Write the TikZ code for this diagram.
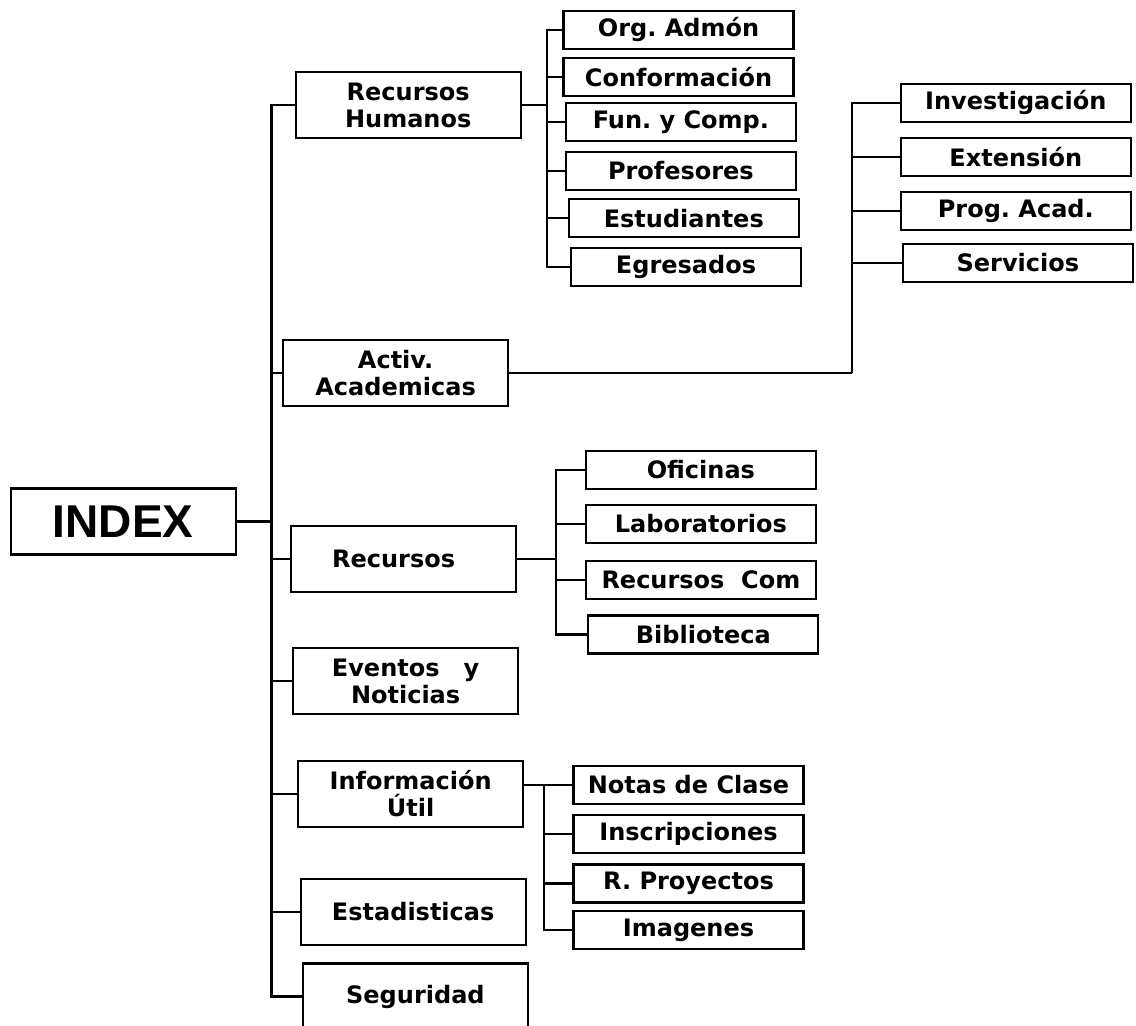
\documentclass[tikz,border=0pt]{standalone}
\usepackage{fontspec}
\setmainfont{DejaVu Sans}
\newfontfamily\idxfont{Liberation Sans}
\frenchspacing
\begin{document}
\begin{tikzpicture}[x=1pt,y=-1pt,line width=2.2pt,
  box/.style={draw, rectangle, inner sep=0pt, align=center, line width=2.2pt,
    font=\fontsize{24}{27}\selectfont\bfseries},
  main/.style={box, minimum width=225pt, minimum height=66pt},
  sub/.style={box, minimum width=230pt, minimum height=38pt},
  conn/.style={draw, line width=2.2pt}]
\useasboundingbox (0,0) rectangle (1136,1026);
\clip (0,0) rectangle (1136,1026);

% root
\node[main, font=\fontsize{46}{50}\selectfont\idxfont\bfseries] (index) at (123.2,521.5) {INDEX};

% main level
\node[main] (rh)    at (408.2,105)   {Recursos\\Humanos};
\node[main] (activ) at (395.6,373.3) {Activ.\\Academicas};
\node[main] (rec)   at (403.6,558.6) {\hspace*{-20pt}Recursos};
\node[main] (ev)    at (405.6,681.3) {Eventos\quad y\\Noticias};
\node[main] (info)  at (410.6,794)   {Información\\Útil};
\node[main] (est)   at (413.2,911.7) {Estadisticas};
\node[main] (seg)   at (415.4,996.5) {Seguridad};

% Recursos Humanos children
\node[sub] (org)  at (678.5,29.9)  {Org. Admón};
\node[sub] (conf) at (678.5,77.3)  {Conformación};
\node[sub] (fun)  at (680.9,121.7) {Fun. y Comp.};
\node[sub] (prof) at (680.9,171)   {Profesores};
\node[sub] (estu) at (683.8,218.3) {Estudiantes};
\node[sub] (egr)  at (686,267.2)   {Egresados};

% Activ. Academicas children
\node[sub] (inv)  at (1015.8,102.9) {Investigación};
\node[sub] (ext)  at (1015.8,157)   {Extensión};
\node[sub] (prog) at (1015.8,211)   {Prog. Acad.};
\node[sub] (serv) at (1017.9,262.7) {Servicios};

% Recursos children
\node[sub] (ofi)  at (700.9,469.9) {Oficinas};
\node[sub] (lab)  at (700.9,524)   {Laboratorios};
\node[sub] (rcom) at (700.9,580)   {Recursos\ \ Com};
\node[sub] (bib)  at (703.3,634.4) {Biblioteca};

% Informacion Util children
\node[sub] (notas) at (688.5,784.8) {Notas de Clase};
\node[sub] (insc)  at (688.5,834)   {Inscripciones};
\node[sub] (rpro)  at (688.5,883.5) {R. Proyectos};
\node[sub] (img)   at (688.5,930.3) {Imagenes};

% junction coordinates
\coordinate (sj)   at (271.4,519);
\coordinate (rhj)  at (546.7,105);
\coordinate (acj)  at (852.1,373.3);
\coordinate (recj) at (556,558.6);
\coordinate (infj) at (544.3,784.8);

% connectors
\draw[conn] (index.east) -- (index.east -| sj);
\foreach \n in {rh,activ,rec,ev,info,est,seg} \draw[conn] (\n.west) -| (sj);

\draw[conn] (rh.east) -- (rhj);
\foreach \n in {org,conf,fun,prof,estu,egr} \draw[conn] (\n.west) -| (rhj);

\draw[conn] (activ.east) -- (acj);
\foreach \n in {inv,ext,prog,serv} \draw[conn] (\n.west) -| (acj);

\draw[conn] (rec.east) -- (recj);
\foreach \n in {ofi,lab,rcom,bib} \draw[conn] (\n.west) -| (recj);

\draw[conn] (info.east |- notas.west) -- (notas.west);
\foreach \n in {insc,rpro,img} \draw[conn] (\n.west) -| (infj);
\end{tikzpicture}
\end{document}
